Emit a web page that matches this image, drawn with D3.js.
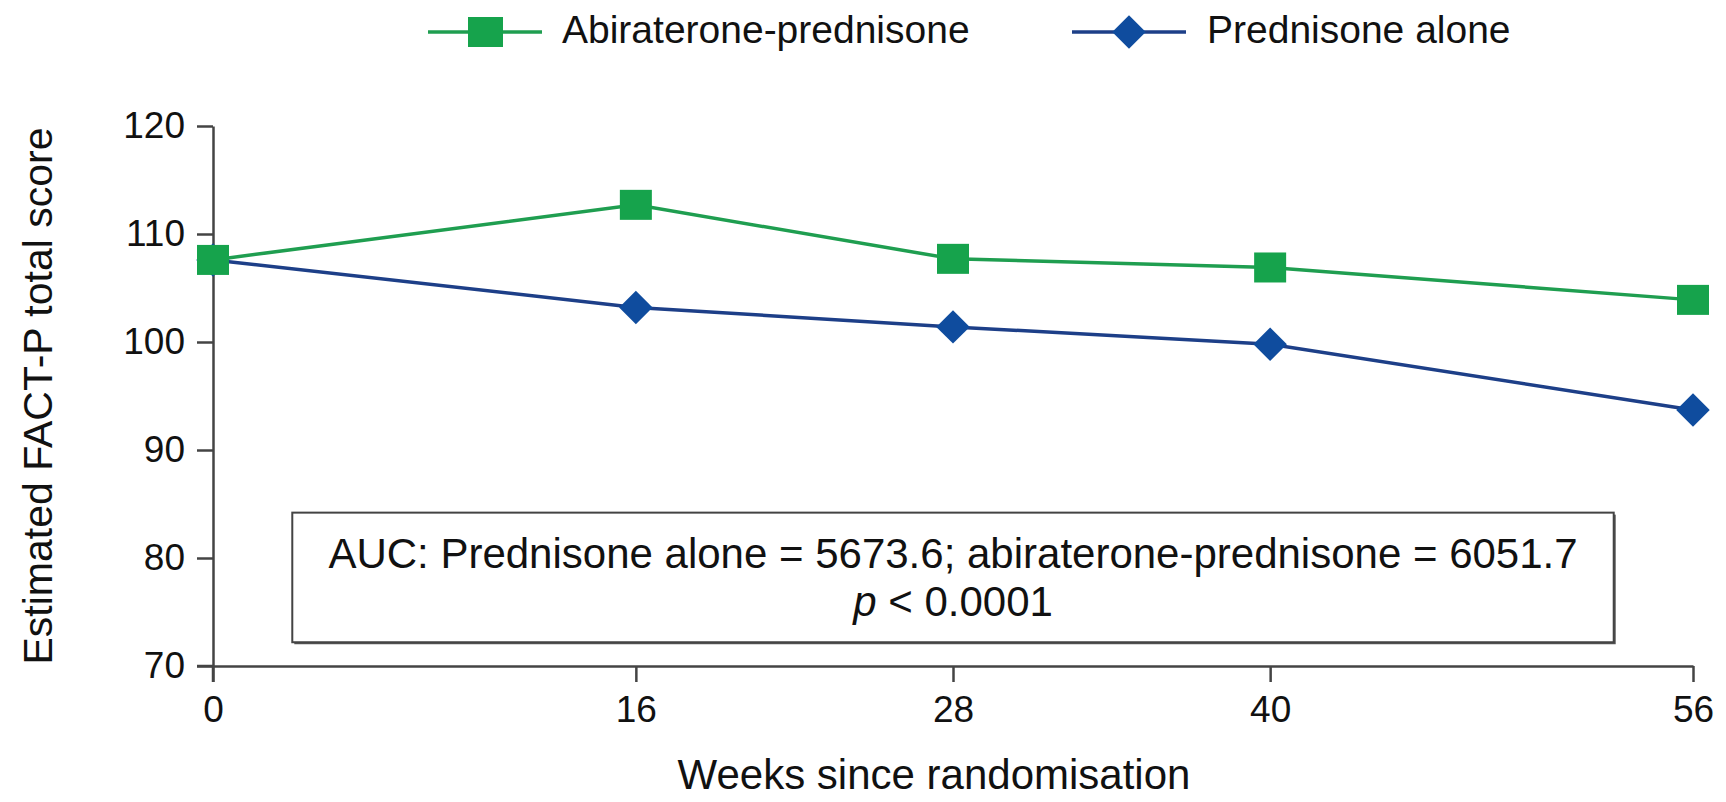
<!DOCTYPE html>
<html>
<head>
<meta charset="utf-8">
<script src="https://cdn.jsdelivr.net/npm/d3@7"></script>
<style>
  body { margin: 0; background: #fff; }
  text { font-family: "Liberation Sans", Arial, Helvetica, sans-serif; fill: #111; }
</style>
</head>
<body>
<div id="main"></div>
<script>
// data
var weeks = [0, 16, 28, 40, 56];
var abiraterone = [107.6, 112.7, 107.7, 106.9, 103.9];
var prednisone = [107.6, 103.2, 101.4, 99.8, 93.7];
var yTicks = [70, 80, 90, 100, 110, 120];
var seriesNames = ["Abiraterone-prednisone", "Prednisone alone"];
var aucText = "AUC: Prednisone alone = 5673.6; abiraterone-prednisone = 6051.7";

var margin = { top: 126, right: 33, bottom: 136, left: 213 },
  width = 1726 - margin.left - margin.right,
  height = 802 - margin.top - margin.bottom;

var green = "#16a34c", blue = "#0f4c9e";
var greenLine = "#1f9e50", blueLine = "#1d3f88";

var svg = d3.select('#main')
  .append("svg")
  .attr('width', 1726)
  .attr('height', 802)
  .append("g")
  .attr("transform", "translate(" + margin.left + "," + margin.top + ")");

var x = d3.scaleLinear().domain([0, 56]).range([0, width]);
var y = d3.scaleLinear().domain([70, 120]).range([height, 0]);

// annotation box (behind lines)
var bx0 = x(3), bx1 = x(53), by0 = y(84.2), by1 = y(72.2);
svg.append("rect")
  .attr("x", bx0 + 2).attr("y", by0 + 2)
  .attr("width", bx1 - bx0).attr("height", by1 - by0)
  .attr("fill", "#555");
svg.append("rect")
  .attr("x", bx0).attr("y", by0)
  .attr("width", bx1 - bx0).attr("height", by1 - by0)
  .attr("fill", "#fff")
  .attr("stroke", "#444")
  .attr("stroke-width", 2);
svg.append("text")
  .attr("x", (bx0 + bx1) / 2)
  .attr("y", by0 + 55)
  .attr("text-anchor", "middle")
  .style("font-size", "42px")
  .text(aucText);
var pText = svg.append("text")
  .attr("x", (bx0 + bx1) / 2)
  .attr("y", by0 + 103)
  .attr("text-anchor", "middle")
  .style("font-size", "42px");
pText.append("tspan").style("font-style", "italic").text("p");
pText.append("tspan").text(" < 0.0001");

// axes
var xAxis = svg.append("g")
  .attr("transform", "translate(0," + height + ")")
  .call(d3.axisBottom(x).tickValues(weeks).tickSize(16).tickSizeOuter(0).tickPadding(14));
var yAxis = svg.append("g")
  .call(d3.axisLeft(y).tickValues(yTicks).tickSize(16).tickSizeOuter(0).tickPadding(12));

[xAxis, yAxis].forEach(function (a) {
  a.selectAll("path, line").attr("stroke", "#444").attr("stroke-width", 2.5);
  a.selectAll("text")
    .style("font-size", "37px")
    .style("font-family", "'Liberation Sans', Arial, sans-serif")
    .attr("fill", "#111");
});
// extend y axis line down to the 0 tick, x axis line left to the 70 tick
svg.append("line").attr("x1", 0).attr("x2", 0).attr("y1", height).attr("y2", height + 16)
  .attr("stroke", "#444").attr("stroke-width", 2.5);
svg.append("line").attr("x1", -16).attr("x2", 0).attr("y1", height).attr("y2", height)
  .attr("stroke", "#444").attr("stroke-width", 2.5);

// axis titles
svg.append("text")
  .attr("transform", "translate(" + (934 - margin.left) + "," + (789 - margin.top) + ")")
  .attr("text-anchor", "middle")
  .style("font-size", "42px")
  .text("Weeks since randomisation");

svg.append("text")
  .attr("transform", "translate(" + (52 - margin.left) + "," + (height / 2) + ") rotate(-90)")
  .attr("text-anchor", "middle")
  .style("font-size", "41px")
  .text("Estimated FACT-P total score");

// lines
var line = d3.line().x(function (d) { return x(d.w); }).y(function (d) { return y(d.v); });
var aData = weeks.map(function (w, i) { return { w: w, v: abiraterone[i] }; });
var pData = weeks.map(function (w, i) { return { w: w, v: prednisone[i] }; });

svg.append("path").datum(pData)
  .attr("d", line).attr("fill", "none")
  .attr("stroke", blueLine).attr("stroke-width", 3.5);
svg.append("path").datum(aData)
  .attr("d", line).attr("fill", "none")
  .attr("stroke", greenLine).attr("stroke-width", 3.5);

var diamond = d3.symbol().type(d3.symbolSquare).size(560);
svg.selectAll(".pmark").data(pData).enter()
  .append("path")
  .attr("class", "pmark")
  .attr("d", diamond)
  .attr("transform", function (d) { return "translate(" + x(d.w) + "," + y(d.v) + ") rotate(45)"; })
  .attr("fill", blue);

svg.selectAll(".amark").data(aData).enter()
  .append("rect")
  .attr("class", "amark")
  .attr("x", function (d) { return x(d.w) - 16; })
  .attr("y", function (d) { return y(d.v) - 15; })
  .attr("width", 32)
  .attr("height", 30)
  .attr("fill", green);

// legend
var legend = d3.select("svg").append("g");
var lg = [
  { name: seriesNames[0], x0: 428, color: green, lineColor: greenLine, shape: "square" },
  { name: seriesNames[1], x0: 1072, color: blue, lineColor: blueLine, shape: "diamond" }
];
lg.forEach(function (d) {
  var g = legend.append("g").attr("transform", "translate(" + d.x0 + ",32)");
  g.append("line").attr("x1", 0).attr("x2", 114).attr("y1", 0).attr("y2", 0)
    .attr("stroke", d.lineColor).attr("stroke-width", 3.5);
  if (d.shape === "square") {
    g.append("rect").attr("x", 40).attr("y", -15).attr("width", 35).attr("height", 30).attr("fill", d.color);
  } else {
    g.append("path").attr("d", diamond).attr("transform", "translate(57,0) rotate(45)").attr("fill", d.color);
  }
  g.append("text")
    .attr("x", d.x0 === 428 ? 134 : 135)
    .attr("y", 11)
    .style("font-size", "39px")
    .text(d.name);
});
</script>
</body>
</html>
